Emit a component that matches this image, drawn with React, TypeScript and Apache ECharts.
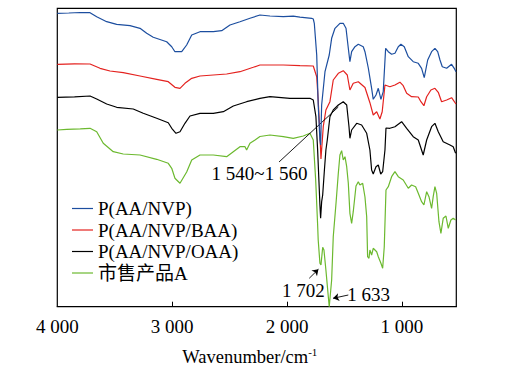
import React, { useEffect, useRef } from "react";
import * as echarts from "echarts";

// [wavenumber (cm^-1), transmittance (a.u.)]
const pAANVP: [number, number][] = [
  [4000, 293.4], [3900, 293.7], [3800, 294.2], [3715, 294], [3657, 290], [3570, 285], [3483, 282.4],
  [3367, 281], [3280, 278.4], [3222, 273.4], [3165, 269.4], [3048, 265], [3004, 260],
  [2976, 255], [2917, 255], [2874, 261.7], [2830, 271.7], [2758, 275], [2642, 275],
  [2569, 276], [2497, 281.7], [2410, 285], [2323, 288.4], [2236, 291.7], [2149, 290.7],
  [2033, 290], [1946, 290.5], [1888, 289.5], [1786, 288.4], [1772, 287.7], [1763, 283.4],
  [1742, 251.7], [1729, 201.7], [1714, 166.7], [1708, 161.7], [1699, 201.7], [1670, 235],
  [1633, 251.7], [1612, 268.4], [1583, 278.4], [1540, 283.4], [1511, 283.4], [1487, 278.4],
  [1467, 258.4], [1453, 245], [1438, 255], [1409, 260], [1380, 262.4], [1337, 260],
  [1322, 255], [1293, 238.7], [1264, 218.4], [1250, 207.4], [1226, 211.7], [1206, 218.4],
  [1183, 207.4], [1163, 215], [1142, 258.4], [1119, 255], [1090, 252.4], [1061, 253.4],
  [1032, 260], [1009, 262.4], [980, 260], [945, 250], [902, 245], [858, 243.4],
  [829, 238.4], [806, 229], [776, 246.7], [742, 255], [713, 258.4], [689, 255],
  [669, 246.7], [649, 240], [611, 238.4], [568, 242.4], [545, 238.4], [530, 235],
];

const pAANVPBAA: [number, number][] = [
  [4000, 242.4], [3850, 242.8], [3715, 242.7], [3628, 238.4], [3541, 235.7], [3426, 234],
  [3280, 230.7], [3135, 227.4], [3034, 225], [2976, 219.4], [2932, 218.4], [2889, 223.4],
  [2830, 228.4], [2758, 230.7], [2642, 231.7], [2526, 232.7], [2410, 235], [2294, 239.4],
  [2236, 241.7], [2033, 241.7], [1888, 241], [1772, 240.7], [1742, 230], [1729, 206.7],
  [1714, 171.7], [1705, 147.7], [1685, 180], [1662, 196.7], [1627, 205], [1598, 226.7],
  [1554, 233.4], [1511, 236], [1476, 231.7], [1453, 216.7], [1424, 223.4], [1380, 225],
  [1322, 219.2], [1279, 204], [1250, 191.7], [1220, 195], [1192, 187.7], [1172, 195],
  [1148, 221.7], [1105, 220], [1061, 221.7], [1018, 224.5], [989, 221], [959, 213.4],
  [916, 210], [858, 209.7], [835, 205], [809, 201], [785, 210], [748, 216.7],
  [713, 218.4], [684, 214.4], [655, 205], [611, 206.7], [568, 209], [530, 202.7],
];

const pAANVPOAA: [number, number][] = [
  [4000, 209.4], [3850, 209.8], [3715, 210.7], [3657, 207.7], [3570, 202.7], [3483, 199.4],
  [3339, 197.7], [3252, 193.4], [3135, 188.4], [3034, 184], [3004, 178.4], [2967, 173.4],
  [2932, 175], [2889, 183.4], [2845, 190.7], [2758, 193.4], [2642, 193.4], [2555, 195],
  [2468, 200.7], [2352, 205], [2236, 208.4], [2149, 210], [1975, 208.4], [1801, 208.4],
  [1772, 206.7], [1749, 190], [1734, 156.7], [1714, 101.7], [1708, 88.4], [1699, 105],
  [1690, 111.7], [1675, 136.7], [1662, 156.7], [1650, 166.7], [1627, 190], [1598, 196.7],
  [1554, 201.7], [1511, 205], [1481, 201.7], [1461, 180], [1453, 168.4], [1438, 176.7],
  [1394, 183.4], [1351, 181.7], [1307, 173.4], [1279, 156.7], [1264, 136.7], [1250, 132.7],
  [1226, 140], [1206, 141.7], [1185, 132.7], [1168, 135], [1148, 156.7], [1139, 178.7],
  [1105, 178.4], [1061, 180], [1003, 185], [959, 178.4], [902, 170], [858, 166.7],
  [815, 151.7], [785, 166.7], [742, 180], [713, 183.4], [684, 175], [641, 165],
  [582, 161.7], [554, 160], [533, 153.4],
];

const productA: [number, number][] = [
  [4000, 176.7], [3918, 177.4], [3800, 177.8], [3715, 178.4], [3657, 175], [3600, 163.4],
  [3513, 155], [3426, 152.7], [3280, 151.7], [3135, 147.4], [3034, 143.4], [3004, 138.4],
  [2976, 128.4], [2961, 126.7], [2932, 123.4], [2874, 134.7], [2830, 146.7], [2758, 151.7],
  [2642, 151.7], [2526, 150], [2468, 155], [2410, 160], [2366, 160], [2352, 156.7],
  [2323, 163.4], [2279, 166.7], [2236, 170.2], [2149, 171.7], [2033, 170], [1946, 168.4],
  [1859, 170.7], [1801, 173.4], [1772, 166.7], [1751, 126.7], [1734, 81.7], [1729, 66.7],
  [1714, 43.4], [1705, 41.7], [1690, 59.4], [1679, 56.7], [1662, 36.7], [1641, 10],
  [1633, 0], [1612, 26.7], [1598, 70], [1574, 103.4], [1554, 133.4], [1540, 151.7],
  [1525, 156], [1511, 146.7], [1496, 150], [1481, 140], [1467, 123.4], [1453, 93.4],
  [1438, 83.4], [1424, 95], [1400, 120.7], [1380, 125], [1366, 121.7], [1342, 123.4],
  [1322, 109.7], [1307, 90], [1299, 50], [1287, 48.4], [1279, 56.7], [1264, 51.7],
  [1250, 58.4], [1220, 55], [1206, 50], [1183, 43.4], [1168, 38.4], [1154, 60],
  [1139, 116.7], [1119, 120], [1090, 130], [1061, 135], [1032, 130], [989, 126.7],
  [945, 118.4], [916, 121.7], [881, 120], [858, 113.4], [829, 105], [809, 101.7],
  [785, 115], [765, 110], [742, 98.4], [728, 110], [713, 120], [698, 113.4],
  [678, 85], [661, 73.4], [641, 88.4], [617, 90.7], [597, 78.4], [574, 86.7],
  [554, 88.4], [533, 86.7],
];

const seriesNames = ["P(AA/NVP)", "P(AA/NVP/BAA)", "P(AA/NVP/OAA)", "市售产品A"];
const tickValues = [1000, 2000, 3000];
const labelValues = [1000, 2000, 3000, 4000];

// annotation anchors in data coordinates
const annotLabels: { text: string; at: [number, number] }[] = [
  { text: "1 540~1 560", at: [2240, 133.3] },
  { text: "1 702", at: [1859, 16] },
  { text: "1 633", at: [1290, 12.7] },
];
const annotLines: { from: [number, number]; to: [number, number]; arrow: boolean }[] = [
  { from: [2070, 144.7], to: [1554, 199.7], arrow: false },
  { from: [1807, 28.4], to: [1727, 37.5], arrow: true },
  { from: [1467, 11.7], to: [1600, 8.4], arrow: true },
];

const colors = ["#1c4e9f", "#e4221f", "#000000", "#6cb92f"];
const serif = "'Liberation Serif', 'Times New Roman', 'Noto Sans CJK SC', serif";
const FS = 19;

const fmt = (v: number) => {
  const s = String(Math.round(v));
  return s.length > 3 ? s.slice(0, s.length - 3) + " " + s.slice(-3) : s;
};

export default function App() {
  const ref = useRef<HTMLDivElement>(null);
  useEffect(() => {
    if (!ref.current) return;
    const chart = echarts.init(ref.current, null, { renderer: "svg" });
    const datasets = [pAANVP, pAANVPBAA, pAANVPOAA, productA];
    const lineSeries: any[] = datasets.map((d, i) => ({
      name: seriesNames[i],
      type: "line",
      data: d,
      showSymbol: false,
      symbol: "none",
      color: colors[i],
      lineStyle: { width: 1.2, color: colors[i] },
      z: 5 - i,
    }));
    lineSeries.push({
      name: "annot",
      type: "line",
      data: [],
      symbol: "none",
      markLine: {
        silent: true,
        animation: false,
        symbolSize: 6,
        label: { show: false },
        lineStyle: { color: "#000", width: 0.9, type: "solid" },
        data: annotLines.map((l) => [
          { coord: l.from, symbol: "none" },
          { coord: l.to, symbol: l.arrow ? "arrow" : "none" },
        ]),
      },
      markPoint: {
        silent: true,
        animation: false,
        symbol: "circle",
        symbolSize: 1,
        itemStyle: { color: "rgba(0,0,0,0)" },
        label: {
          show: true,
          position: "inside",
          color: "#000",
          fontFamily: serif,
          fontSize: FS,
          formatter: (p: any) => p.name,
        },
        data: annotLabels.map((a) => ({ name: a.text, coord: a.at })),
      },
    });
    chart.setOption({
      animation: false,
      backgroundColor: "#fff",
      grid: {
        left: 57.3,
        right: 56.7,
        top: 8.3,
        bottom: 66.3,
        show: true,
        borderColor: "#000",
        borderWidth: 1.2,
        backgroundColor: "transparent",
      },
      legend: {
        data: seriesNames,
        orient: "vertical",
        left: 72,
        top: 199,
        padding: 0,
        icon: "rect",
        itemWidth: 21,
        itemHeight: 1.2,
        itemGap: 2.5,
        textStyle: { fontFamily: serif, fontSize: FS, color: "#000", lineHeight: 18.5 },
      },
      xAxis: {
        type: "value",
        inverse: true,
        min: 527,
        max: 4000,
        axisLine: { show: true, lineStyle: { color: "#000", width: 1.2 } },
        axisTick: { show: true, inside: true, length: 5, customValues: tickValues, lineStyle: { color: "#000" } },
        axisLabel: {
          customValues: labelValues,
          formatter: fmt,
          fontFamily: serif,
          fontSize: FS,
          color: "#000",
          margin: 10,
          showMinLabel: true,
          showMaxLabel: true,
        },
        splitLine: { show: false },
        name: "Wavenumber/cm{sup|-1}",
        nameLocation: "middle",
        nameGap: 40,
        nameTextStyle: {
          fontFamily: serif,
          fontSize: 18.5,
          color: "#000",
          padding: [0, 14, 0, 0],
          rich: {
            sup: { fontFamily: serif, fontSize: 11, color: "#000", verticalAlign: "top", lineHeight: 20 },
          },
        },
      },
      yAxis: {
        type: "value",
        min: 0,
        max: 298.4,
        show: false,
      },
      series: lineSeries,
    });
    return () => chart.dispose();
  }, []);
  return <div ref={ref} style={{ width: 513, height: 373, position: "absolute", left: 0, top: 0 }} />;
}
